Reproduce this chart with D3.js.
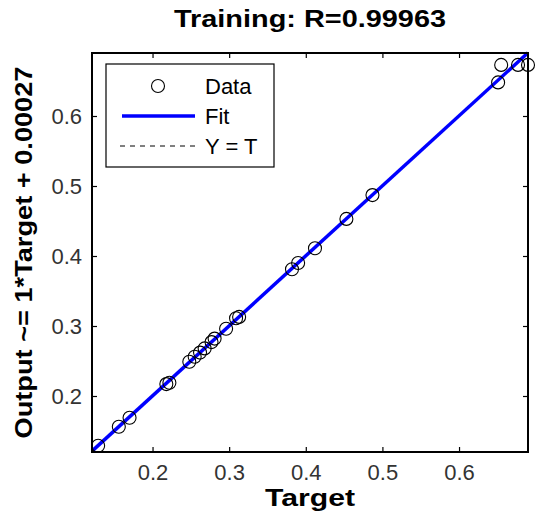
<!DOCTYPE html>
<html>
<head>
<meta charset="utf-8">
<script src="https://cdn.jsdelivr.net/npm/d3@7"></script>
<style>
  body { margin: 0; background: #fff; }
  svg text { font-family: "Liberation Sans", Arial, sans-serif; }
</style>
</head>
<body>
<svg id="chart"></svg>
<script>
// values
var targets = [0.129, 0.156, 0.170, 0.218, 0.222, 0.248, 0.255, 0.262, 0.268, 0.277, 0.281,
               0.296, 0.309, 0.313, 0.382, 0.390, 0.412, 0.453, 0.487, 0.651, 0.655, 0.677, 0.690];
var outputs = [0.129, 0.156, 0.169, 0.217, 0.219, 0.249, 0.256, 0.262, 0.268, 0.277, 0.282,
               0.296, 0.311, 0.313, 0.381, 0.390, 0.411, 0.453, 0.487, 0.648, 0.673, 0.673, 0.673];
var tickValues = [0.2, 0.3, 0.4, 0.5, 0.6];
var xLimits = [0.121, 0.690];
var yLimits = [0.120, 0.690];
var slope = 1, offset = 0.00027;
var titleText = 'Training: R=0.99963';
var legendLabels = ['Data', 'Fit', 'Y = T'];

var screen = { width: 536, height: 513 };
var margins = { top: 53, bottom: 61, left: 92, right: 8 };
var width = screen.width - margins.left - margins.right;
var height = screen.height - margins.top - margins.bottom;

var svg = d3.select('#chart')
  .attr('width', screen.width)
  .attr('height', screen.height);

var xScale = d3.scaleLinear().domain(xLimits).range([0, width]);
var yScale = d3.scaleLinear().domain(yLimits).range([height, 0]);

var plot = svg.append('g')
  .attr('transform', 'translate(' + margins.left + ',' + margins.top + ')');

// ticks on all four sides, pointing inward
var tickLen = 5;
function tickStyle(g) {
  g.select('.domain').remove();
  g.selectAll('.tick line').attr('stroke', '#000').attr('stroke-width', 1.2);
  g.selectAll('.tick text')
    .attr('fill', '#333')
    .style('font-size', '22px');
}
plot.append('g')
  .attr('transform', 'translate(0,' + height + ')')
  .call(d3.axisBottom(xScale).tickValues(tickValues).tickSize(-tickLen).tickPadding(12).tickFormat(d3.format('.1f')))
  .call(tickStyle);
plot.append('g')
  .call(d3.axisTop(xScale).tickValues(tickValues).tickSize(-tickLen).tickFormat(''))
  .call(tickStyle);
plot.append('g')
  .call(d3.axisLeft(yScale).tickValues(tickValues).tickSize(-tickLen).tickPadding(10).tickFormat(d3.format('.1f')))
  .call(tickStyle);
plot.append('g')
  .attr('transform', 'translate(' + width + ',0)')
  .call(d3.axisRight(yScale).tickValues(tickValues).tickSize(-tickLen).tickFormat(''))
  .call(tickStyle);

// Y = T reference line (dashed) and the fit line
var line = d3.line().x(function(d) { return xScale(d[0]); }).y(function(d) { return yScale(d[1]); });
plot.append('path')
  .datum(xLimits.map(function(t) { return [t, t]; }))
  .attr('d', line)
  .attr('fill', 'none').attr('stroke', '#000').attr('stroke-dasharray', '5,4');
plot.append('path')
  .datum(xLimits.map(function(t) { return [t, slope * t + offset]; }))
  .attr('d', line)
  .attr('fill', 'none').attr('stroke', '#0000ff').attr('stroke-width', 3.5);

// data circles
plot.selectAll('circle.pt')
  .data(targets)
  .enter()
  .append('circle')
  .attr('class', 'pt')
  .attr('cx', function(d) { return xScale(d); })
  .attr('cy', function(d, i) { return yScale(outputs[i]); })
  .attr('r', 6.5)
  .attr('fill', 'none')
  .attr('stroke', '#000')
  .attr('stroke-width', 1.1);

// axes box
plot.append('rect')
  .attr('width', width).attr('height', height)
  .attr('fill', 'none').attr('stroke', '#000').attr('stroke-width', 2);

// legend
var legend = plot.append('g').attr('transform', 'translate(14,11)');
legend.append('rect')
  .attr('width', 168).attr('height', 103)
  .attr('fill', '#fff').attr('stroke', '#000').attr('stroke-width', 1.2);
legend.append('circle')
  .attr('cx', 52).attr('cy', 22).attr('r', 6.5)
  .attr('fill', 'none').attr('stroke', '#000').attr('stroke-width', 1.1);
legend.append('line')
  .attr('x1', 16).attr('x2', 89).attr('y1', 52).attr('y2', 52)
  .attr('stroke', '#0000ff').attr('stroke-width', 3.5);
legend.append('line')
  .attr('x1', 14).attr('x2', 91).attr('y1', 82).attr('y2', 82)
  .attr('stroke', '#000').attr('stroke-dasharray', '5,5');
legend.selectAll('text.lab')
  .data(legendLabels)
  .enter()
  .append('text')
  .attr('class', 'lab')
  .attr('x', 99)
  .attr('y', function(d, i) { return 30 + i * 30; })
  .style('font-size', '22px')
  .attr('fill', '#000')
  .text(function(d) { return d; });

// title and axis labels
svg.append('text')
  .attr('x', margins.left + width / 2).attr('y', 27)
  .attr('text-anchor', 'middle')
  .attr('textLength', 272).attr('lengthAdjust', 'spacingAndGlyphs')
  .style('font-size', '24px').style('font-weight', 'bold')
  .text(titleText);
svg.append('text')
  .attr('x', margins.left + width / 2).attr('y', 506)
  .attr('text-anchor', 'middle')
  .attr('textLength', 90).attr('lengthAdjust', 'spacingAndGlyphs')
  .style('font-size', '23px').style('font-weight', 'bold')
  .text('Target');
svg.append('text')
  .attr('transform', 'translate(32,' + (margins.top + height / 2) + ') rotate(-90)')
  .attr('text-anchor', 'middle')
  .attr('textLength', 372).attr('lengthAdjust', 'spacingAndGlyphs')
  .style('font-size', '23px').style('font-weight', 'bold')
  .text('Output ~= ' + slope + '*Target + ' + offset.toFixed(5));
</script>
</body>
</html>
